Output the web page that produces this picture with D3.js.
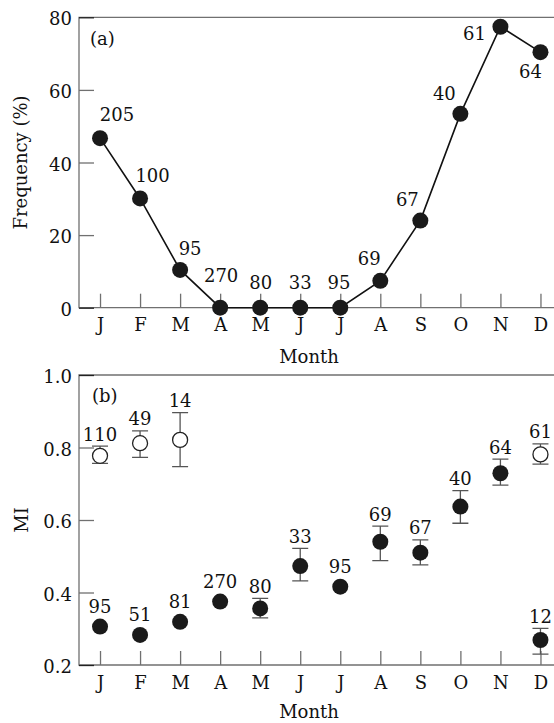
<!DOCTYPE html>
<html>
<head>
<meta charset="utf-8" />
<title>Frequency and MI by month</title>
<script src="https://cdn.jsdelivr.net/npm/d3@7"></script>
<style>
  body { margin: 0; background: #fff; }
  svg text { font-family: "DejaVu Serif", serif; font-size: 18px; fill: #111; }
  svg .frame { stroke: #707070; stroke-width: 1.3px; fill: none; }
  svg .tick line { stroke: #707070; stroke-width: 1.3px; }
  svg .link { fill: none; stroke: #111; stroke-width: 1.6px; }
  svg .err { stroke: #555; stroke-width: 1.3px; fill: none; }
</style>
</head>
<body>
<div id="chart"></div>
<script>
var width = 554, height = 723;

// month categories
var months = ["J", "F", "M", "A", "M", "J", "J", "A", "S", "O", "N", "D"];

// (a) frequency (%) and sample sizes
var freq = [46.7, 30.1, 10.4, 0, 0, 0, 0, 7.4, 24.0, 53.4, 77.4, 70.4];
var freqN = [205, 100, 95, 270, 80, 33, 95, 69, 67, 40, 61, 64];
var freqTicks = [0, 20, 40, 60, 80];

// (b) MI, open circles
var openMonth = [0, 1, 2, 11];
var openMI = [0.777, 0.812, 0.821, 0.781];
var openLo = [0.756, 0.773, 0.747, 0.754];
var openHi = [0.804, 0.846, 0.896, 0.810];
var openN = [110, 49, 14, 61];

// (b) MI, filled circles
var fillMI = [0.306, 0.283, 0.319, 0.375, 0.356, 0.473, 0.416, 0.540, 0.510, 0.637, 0.729, 0.269];
var fillLo = [null, null, null, null, 0.330, 0.432, null, 0.488, 0.476, 0.591, 0.696, 0.230];
var fillHi = [null, null, null, null, 0.384, 0.522, null, 0.583, 0.545, 0.681, 0.768, 0.301];
var fillN = [95, 51, 81, 270, 80, 33, 95, 69, 67, 40, 64, 12];
var miTicks = [0.2, 0.4, 0.6, 0.8, 1.0];

// label nudges for panel (a), px relative to the point
var aDx = [17, 12.5, 10, 1, 0.5, 0, -1.3, -11, -13, -16, -26, -10];
var aDy = [-17, -16.6, -15, -26, -18.4, -18.4, -18.4, -15.7, -14.7, -14, 13.3, 26];

var left = 79, right = 554;
var r = 8;

var svg = d3.select("#chart").append("svg")
  .attr("width", width)
  .attr("height", height);

var x = d3.scaleLinear().domain([-0.525, 11.338]).range([left, right]);
var yA = d3.scaleLinear().domain([0, 80]).range([307.7, 17.3]);
var yB = d3.scaleLinear().domain([0.2, 1.0]).range([665, 375]);

// frame + axes for one panel
function drawFrame(y, ticks, fmt, monthBase) {
  var top = y.range()[1], bottom = y.range()[0];
  var g = svg.append("g");
  g.append("path").attr("class", "frame")
    .attr("d", "M" + right + "," + top + "H" + left + "V" + bottom + "H" + right);

  var ya = d3.axisLeft(y).tickValues(ticks).tickFormat(fmt)
    .tickSizeInner(-15).tickSizeOuter(0).tickPadding(7);
  var yg = g.append("g").attr("transform", "translate(" + left + ",0)").call(ya);
  yg.select(".domain").remove();
  yg.selectAll("text").attr("dy", "0.42em").style("font-size", "18px")
    .style("font-family", "DejaVu Serif, serif").attr("fill", "#111");
  yg.selectAll(".tick").filter(function (d) { return d === ticks[ticks.length - 1] || d === ticks[0]; })
    .select("line").style("stroke", "#222");

  var xa = d3.axisBottom(x).tickValues(d3.range(12)).tickFormat(function (i) { return months[i]; })
    .tickSizeInner(-14).tickSizeOuter(0).tickPadding(11);
  var xg = g.append("g").attr("transform", "translate(0," + bottom + ")").call(xa);
  xg.select(".domain").remove();
  xg.selectAll("text").style("font-size", "18px")
    .style("font-family", "DejaVu Serif, serif").attr("fill", "#111");

  g.append("text").attr("x", 309).attr("y", monthBase)
    .attr("text-anchor", "middle").text("Month");
  return g;
}

// ---- panel (a)
var ga = drawFrame(yA, freqTicks, d3.format("d"), 362.7);
ga.append("text").attr("x", 90).attr("y", 44.5).text("(a)");
ga.append("text")
  .attr("transform", "translate(26.5," + (yA(40)) + ") rotate(-90)")
  .attr("text-anchor", "middle").text("Frequency (%)");

var line = d3.line()
  .x(function (d, i) { return x(i); })
  .y(function (d) { return yA(d); });

ga.append("path").datum(freq).attr("class", "link").attr("d", line);

ga.selectAll("circle.pt").data(freq).enter().append("circle")
  .attr("class", "pt")
  .attr("cx", function (d, i) { return x(i); })
  .attr("cy", function (d) { return yA(d); })
  .attr("r", r)
  .attr("fill", "#1a1a1a");

ga.selectAll("text.n").data(freqN).enter().append("text")
  .attr("class", "n")
  .attr("x", function (d, i) { return x(i) + aDx[i]; })
  .attr("y", function (d, i) { return yA(freq[i]) + aDy[i]; })
  .attr("text-anchor", "middle")
  .text(function (d) { return d; });

// ---- panel (b)
var gb = drawFrame(yB, miTicks, d3.format(".1f"), 718);
gb.append("text").attr("x", 92).attr("y", 401.7).text("(b)");
gb.append("text")
  .attr("transform", "translate(28," + yB(0.6) + ") rotate(-90)")
  .attr("text-anchor", "middle").text("MI");

var openData = openMonth.map(function (m, i) {
  return { m: m, v: openMI[i], lo: openLo[i], hi: openHi[i], n: openN[i], open: true };
});
var fillData = fillMI.map(function (v, i) {
  return { m: i, v: v, lo: fillLo[i], hi: fillHi[i], n: fillN[i], open: false };
});
var allB = openData.concat(fillData);

// error bars
var withErr = allB.filter(function (d) { return d.lo != null; });
var eb = gb.selectAll("g.eb").data(withErr).enter().append("g").attr("class", "eb");
eb.append("path").attr("class", "err")
  .attr("d", function (d) {
    var cx = x(d.m), t = yB(d.hi), b = yB(d.lo);
    return "M" + cx + "," + t + "V" + b +
      "M" + (cx - 8) + "," + t + "H" + (cx + 8) +
      "M" + (cx - 8) + "," + b + "H" + (cx + 8);
  });

gb.selectAll("circle.pt").data(allB).enter().append("circle")
  .attr("class", "pt")
  .attr("cx", function (d) { return x(d.m); })
  .attr("cy", function (d) { return yB(d.v); })
  .attr("r", function (d) { return d.open ? 7.5 : r; })
  .attr("fill", function (d) { return d.open ? "#fff" : "#1a1a1a"; })
  .attr("stroke", function (d) { return d.open ? "#222" : "none"; })
  .attr("stroke-width", 1.3);

gb.selectAll("text.n").data(allB).enter().append("text")
  .attr("class", "n")
  .attr("x", function (d) { return x(d.m); })
  .attr("y", function (d) {
    var t = yB(d.v) - r;
    if (d.hi != null) t = Math.min(t, yB(d.hi));
    return t - 5.5;
  })
  .attr("text-anchor", "middle")
  .text(function (d) { return d.n; });
</script>
</body>
</html>
